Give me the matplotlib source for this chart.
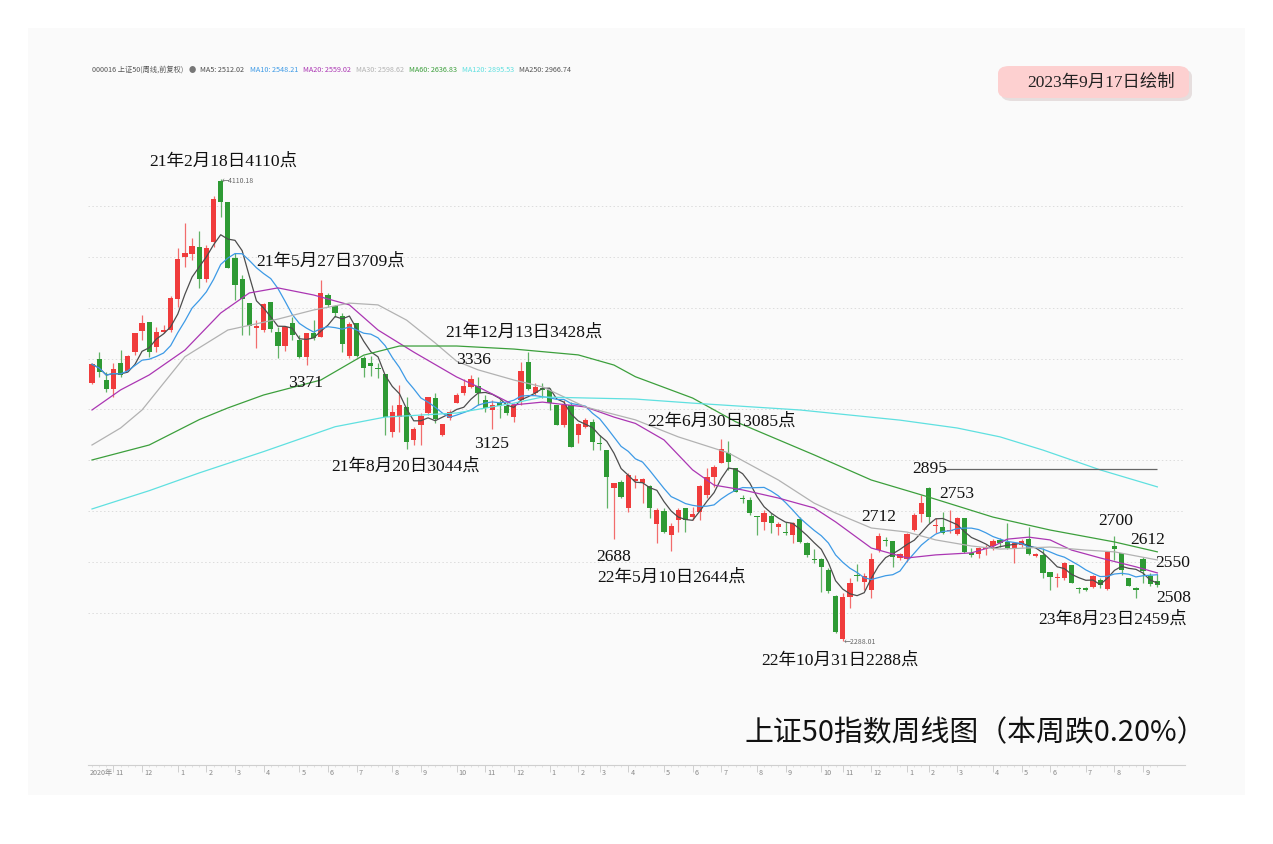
import numpy as np
import pandas as pd
import matplotlib
matplotlib.use('Agg')
import matplotlib.pyplot as plt
from matplotlib.patches import FancyBboxPatch, Rectangle

# weekly candles: Monday of each trading week (holiday-only weeks dropped)
first_week = '2020-10-12'
last_week = '2023-09-11'
closed_weeks = ['2022-01-31', '2022-10-03', '2023-01-23']
friday_holidays = ['2021-01-01', '2021-10-01']

opens = [3303, 3398, 3316, 3280, 3385, 3352, 3428, 3511, 3546, 3445,
         3505, 3513, 3634, 3799, 3812, 3841, 3714, 3861, 4100, 4019,
         3796, 3713, 3621, 3520, 3513, 3625, 3506, 3450, 3539, 3474,
         3408, 3503, 3487, 3651, 3608, 3568, 3411, 3539, 3401, 3384,
         3362, 3338, 3113, 3172, 3211, 3080, 3139, 3187, 3244, 3100,
         3165, 3227, 3264, 3290, 3292, 3237, 3198, 3224, 3214, 3172,
         3237, 3388, 3266, 3283, 3277, 3218, 3139, 3218, 3099, 3130,
         3152, 3067, 3040, 2889, 2916, 2811, 2918, 2909, 2899, 2749,
         2801, 2706, 2765, 2811, 2775, 2797, 2863, 2935, 2990, 3030,
         2971, 2850, 2843, 2781, 2758, 2780, 2738, 2718, 2705, 2767,
         2673, 2610, 2610, 2568, 2465, 2294, 2462, 2546, 2522, 2489,
         2646, 2685, 2682, 2616, 2610, 2725, 2788, 2892, 2741, 2738,
         2720, 2709, 2771, 2633, 2631, 2649, 2662, 2686, 2679, 2653,
         2666, 2688, 2624, 2627, 2561, 2536, 2537, 2587, 2498, 2495,
         2499, 2528, 2491, 2662, 2633, 2535, 2498, 2610, 2545, 2525]
highs = [3385, 3428, 3349, 3382, 3434, 3415, 3500, 3572, 3546, 3526,
         3533, 3647, 3835, 3933, 3874, 3903, 3848, 4042, 4110, 4019,
         3815, 3730, 3621, 3553, 3618, 3625, 3526, 3526, 3566, 3493,
         3503, 3552, 3709, 3657, 3612, 3579, 3546, 3539, 3411, 3411,
         3382, 3338, 3218, 3296, 3250, 3132, 3185, 3248, 3266, 3143,
         3198, 3264, 3319, 3336, 3326, 3257, 3237, 3237, 3231, 3224,
         3388, 3428, 3303, 3306, 3283, 3218, 3237, 3231, 3148, 3165,
         3161, 3099, 3040, 2909, 2922, 2948, 2942, 2929, 2902, 2811,
         2811, 2751, 2811, 2811, 2817, 2902, 2968, 2981, 3085, 3077,
         2971, 2863, 2854, 2781, 2804, 2791, 2758, 2758, 2758, 2778,
         2679, 2649, 2614, 2574, 2470, 2478, 2535, 2591, 2555, 2636,
         2712, 2696, 2682, 2633, 2715, 2791, 2863, 2895, 2771, 2797,
         2804, 2775, 2771, 2653, 2657, 2666, 2688, 2692, 2751, 2679,
         2688, 2736, 2633, 2653, 2561, 2554, 2599, 2587, 2502, 2502,
         2548, 2535, 2644, 2700, 2636, 2535, 2502, 2618, 2557, 2550]
lows = [3300, 3329, 3270, 3251, 3329, 3350, 3415, 3474, 3408, 3428,
        3500, 3507, 3605, 3763, 3789, 3677, 3704, 3839, 3960, 3759,
        3631, 3494, 3494, 3441, 3507, 3506, 3401, 3432, 3474, 3401,
        3375, 3474, 3484, 3605, 3566, 3428, 3401, 3408, 3329, 3332,
        3323, 3100, 3093, 3113, 3044, 3060, 3060, 3178, 3148, 3096,
        3158, 3224, 3257, 3283, 3218, 3191, 3125, 3165, 3178, 3152,
        3218, 3277, 3257, 3244, 3198, 3139, 3132, 3053, 3067, 3126,
        3040, 3040, 2810, 2688, 2850, 2797, 2889, 2830, 2771, 2673,
        2712, 2644, 2719, 2719, 2765, 2765, 2850, 2896, 2988, 2962,
        2876, 2830, 2784, 2705, 2725, 2712, 2705, 2705, 2673, 2673,
        2620, 2594, 2482, 2476, 2320, 2288, 2417, 2526, 2489, 2456,
        2640, 2662, 2581, 2607, 2600, 2722, 2758, 2753, 2712, 2710,
        2712, 2705, 2633, 2620, 2614, 2627, 2646, 2660, 2649, 2597,
        2660, 2627, 2620, 2535, 2489, 2499, 2528, 2515, 2478, 2486,
        2495, 2495, 2489, 2607, 2548, 2505, 2459, 2515, 2505, 2500]
closes = [3378, 3349, 3280, 3358, 3336, 3412, 3500, 3540, 3428, 3507,
          3513, 3641, 3792, 3818, 3845, 3714, 3838, 4029, 4016, 3759,
          3690, 3634, 3529, 3529, 3616, 3516, 3450, 3526, 3493, 3408,
          3503, 3480, 3657, 3612, 3579, 3457, 3535, 3411, 3362, 3371,
          3358, 3172, 3191, 3218, 3073, 3122, 3174, 3248, 3161, 3143,
          3191, 3257, 3292, 3319, 3264, 3204, 3218, 3214, 3187, 3218,
          3353, 3279, 3287, 3277, 3224, 3139, 3218, 3053, 3141, 3159,
          3073, 3063, 2935, 2909, 2856, 2942, 2925, 2925, 2811, 2804,
          2719, 2741, 2804, 2765, 2787, 2899, 2935, 2975, 3043, 2994,
          2876, 2846, 2793, 2775, 2793, 2751, 2749, 2712, 2751, 2679,
          2627, 2607, 2581, 2486, 2325, 2462, 2515, 2544, 2544, 2610,
          2702, 2682, 2620, 2629, 2709, 2784, 2833, 2775, 2745, 2715,
          2725, 2771, 2640, 2627, 2653, 2659, 2683, 2675, 2653, 2673,
          2683, 2631, 2631, 2557, 2541, 2540, 2596, 2518, 2492, 2489,
          2544, 2508, 2640, 2649, 2568, 2505, 2489, 2565, 2513, 2508]

# longer moving averages (week index, value)
ma20_idx = [0, 4, 8, 13, 18, 22, 26, 31, 36, 40, 45, 51, 54, 59, 63, 69, 73, 76,
            80, 84, 87, 91, 96, 101, 104, 109, 114, 118, 123, 126, 128, 131, 134,
            137, 141, 146, 149]
ma20_val = [3198, 3277, 3336, 3434, 3580, 3659, 3679, 3651, 3612, 3513, 3426, 3328,
            3289, 3218, 3229, 3210, 3170, 3145, 3080, 2962, 2902, 2883, 2851, 2812,
            2757, 2654, 2615, 2627, 2635, 2660, 2689, 2697, 2686, 2646, 2615, 2580, 2556]
ma30_idx = [0, 4, 7, 13, 19, 26, 31, 36, 40, 44, 48, 51, 54, 59, 63, 69, 76, 82, 89,
            96, 101, 104, 109, 114, 118, 123, 127, 134, 139, 143, 149]
ma30_val = [3060, 3127, 3198, 3408, 3513, 3556, 3592, 3619, 3612, 3552, 3462, 3390,
            3356, 3316, 3289, 3210, 3159, 3092, 3029, 2922, 2831, 2792, 2733, 2717,
            2686, 2662, 2650, 2658, 2646, 2639, 2607]
ma60_idx = [0, 8, 15, 19, 24, 32, 38, 43, 51, 59, 68, 73, 76, 84, 90, 101, 109, 117,
            126, 134, 143, 149]
ma60_val = [3001, 3060, 3160, 3206, 3257, 3316, 3414, 3450, 3450, 3438, 3415, 3375,
            3329, 3245, 3152, 3021, 2922, 2855, 2776, 2725, 2678, 2639]
ma120_idx = [0, 8, 15, 24, 34, 41, 51, 59, 63, 76, 84, 99, 113, 121, 127, 133, 141, 149]
ma120_val = [2808, 2880, 2950, 3034, 3132, 3170, 3186, 3225, 3249, 3241, 3225, 3198,
             3158, 3127, 3092, 3040, 2962, 2895]
ma250_level = 2966.74
ma250_from = 119

legend_labels = ['000016 上证50(周线,前复权)', '●', 'MA5: 2512.02', 'MA10: 2548.21',
                 'MA20: 2559.02', 'MA30: 2598.62', 'MA60: 2636.83', 'MA120: 2895.53',
                 'MA250: 2966.74']

notes = ['21年2月18日4110点', '21年5月27日3709点', '3371', '21年8月20日3044点', '3336',
         '3125', '21年12月13日3428点', '2688', '22年5月10日2644点', '22年6月30日3085点',
         '22年10月31日2288点', '2712', '2895', '2753', '2700', '2612', '2550', '2508',
         '23年8月23日2459点']
note_x = [18.3, 33.4, 29.9, 43.9, 53.4, 55.9, 60.4, 73.0, 81.0, 88.1, 104.6, 110.1,
          117.1, 121.0, 143.2, 147.6, 151.2, 151.3, 142.7]
note_y = [4175, 3781, 3306, 2977, 3395, 3064, 3505, 2619, 2536, 3151, 2209, 2776,
          2965, 2867, 2761, 2686, 2595, 2457, 2374]

title = '上证50指数周线图（本周跌0.20%）'
stamp = '2023年9月17日绘制'

# colours
UP = '#f03c3c'
DOWN = '#2e9a34'
C_MA5 = '#4d4d4d'
C_MA10 = '#3d9ae6'
C_MA20 = '#ab36b3'
C_MA30 = '#b2b2b2'
C_MA60 = '#3c9f3c'
C_MA120 = '#5fe0e0'
legend_colors = ['#555555', '#777777', C_MA5, C_MA10, C_MA20, C_MA30, C_MA60, C_MA120, '#555555']

SERIF = ['Liberation Serif', 'Noto Sans CJK SC']
SANS = ['Noto Sans CJK SC', 'DejaVu Sans']

W, H = 1273, 844
fig = plt.figure(figsize=(W / 100, H / 100), dpi=100)
fig.patch.set_facecolor('white')
fig.patches.append(Rectangle((28 / W, 1 - 795 / H), (1245 - 28) / W, (795 - 28) / H,
                             transform=fig.transFigure, fc='#fafafa', ec='none', zorder=-5))

ax = fig.add_axes([88 / W, 1 - 765 / H, (1185 - 88) / W, (765 - 150) / H])
ax.set_facecolor('none')
ax.set_zorder(3)

o = np.array(opens, float)
h = np.array(highs, float)
l = np.array(lows, float)
c = np.array(closes, float)
n = len(c)
x = np.arange(n)

weeks = pd.date_range(first_week, last_week, freq='W-MON')
weeks = weeks[~weeks.isin(pd.to_datetime(closed_weeks))]
week_end = weeks + pd.Timedelta(days=4)
hol = week_end.isin(pd.to_datetime(friday_holidays))
week_end = week_end.where(~hol, week_end - pd.Timedelta(days=1))
months = np.array(week_end.month)
tick_idx = [i for i in range(1, n) if months[i] != months[i - 1]]

up = c >= o
col = np.where(up, UP, DOWN)
body_low = np.minimum(o, c)
body_h = np.maximum(np.abs(c - o), 2.5)
ax.vlines(x, l, h, colors=col, lw=0.9, alpha=0.75, zorder=2)
ax.bar(x, body_h, bottom=body_low, width=0.74, color=col, edgecolor='none', zorder=3)

cs = pd.Series(c)
ax.plot(x, cs.rolling(5, min_periods=1).mean(), color=C_MA5, lw=0.9, zorder=4)
ax.plot(x, cs.rolling(10, min_periods=1).mean(), color=C_MA10, lw=0.9, zorder=4)
ax.plot(ma20_idx, ma20_val, color=C_MA20, lw=0.9, zorder=4)
ax.plot(ma30_idx, ma30_val, color=C_MA30, lw=0.9, zorder=4)
ax.plot(ma60_idx, ma60_val, color=C_MA60, lw=0.9, zorder=4)
ax.plot(ma120_idx, ma120_val, color=C_MA120, lw=0.9, zorder=4)
ax.hlines(ma250_level, ma250_from, n - 1, color='#666666', lw=0.9, zorder=4)

# price grid
for g in range(2400, 4001, 200):
    ax.axhline(g, color='#dcdcdc', lw=0.7, ls=(0, (1.5, 2.5)), zorder=1)

ax.set_xlim((88 - 92) / 7.15, (1185 - 92) / 7.15)
ax.set_ylim(4110 - (765 - 178.5) * 3.94, 4110 + (178.5 - 150) * 3.94)
for s in ['top', 'left', 'right']:
    ax.spines[s].set_visible(False)
ax.spines['bottom'].set_color('#cfcfcf')
ax.spines['bottom'].set_linewidth(0.8)
ax.set_yticks([])
ax.set_xticks(tick_idx)
ax.set_xticklabels([])
ax.set_xticks(x, minor=True)
ax.tick_params(axis='x', which='major', length=5, color='#c8c8c8', width=0.6)
ax.tick_params(axis='x', which='minor', length=1.5, color='#d8d8d8', width=0.5)

ax.annotate('2020年', xy=(x[0], 0), xycoords=('data', 'axes fraction'), xytext=(-2, -3),
            textcoords='offset points', ha='left', va='top', fontsize=5.2,
            color='#888888', family=SANS)
for i in tick_idx:
    ax.annotate(str(months[i]), xy=(i, 0), xycoords=('data', 'axes fraction'),
                xytext=(1.5, -3), textcoords='offset points', ha='left', va='top',
                fontsize=5.2, color='#888888', family=SANS)

# labels on the chart
for t, tx, ty in zip(notes, note_x, note_y):
    ax.text(tx, ty, t, ha='center', va='center', fontsize=12.6, color='#111111',
            family=SERIF, zorder=6)

i_hi = int(np.argmax(h))
i_lo = int(np.argmin(l))
ax.annotate('←%.2f' % 4110.18, xy=(i_hi, h[i_hi]), xytext=(1, -2), textcoords='offset points',
            ha='left', va='center', fontsize=5, color='#666666', family=SANS)
ax.annotate('←%.2f' % 2288.01, xy=(i_lo, l[i_lo]), xytext=(1, -1), textcoords='offset points',
            ha='left', va='center', fontsize=5, color='#666666', family=SANS)

fig.text(1206 / W, 1 - 733 / H, title, ha='right', va='center', fontsize=20.8,
         color='#111111', family=SANS)

# date stamp box
bx0, by0, bx1, by1 = 998, 66, 1189, 98
fig.patches.append(FancyBboxPatch((bx0 / W + 3 / W, 1 - by1 / H - 3 / H),
                                  (bx1 - bx0) / W, (by1 - by0) / H,
                                  boxstyle='round,pad=0,rounding_size=0.009',
                                  transform=fig.transFigure, fc='#d9cccc', ec='none',
                                  alpha=0.6, zorder=1))
fig.patches.append(FancyBboxPatch((bx0 / W, 1 - by1 / H), (bx1 - bx0) / W, (by1 - by0) / H,
                                  boxstyle='round,pad=0,rounding_size=0.009',
                                  transform=fig.transFigure, fc='#fdd0d0', ec='none',
                                  zorder=2))
fig.text(1101 / W, 1 - 83 / H, stamp, ha='center', va='center', fontsize=12.5,
         color='#222222', family=SERIF, zorder=3)

# MA legend row
renderer = fig.canvas.get_renderer()
lx = 92
for t, cc in zip(legend_labels, legend_colors):
    txt = fig.text(lx / W, 1 - 70 / H, t, ha='left', va='center', fontsize=5.2,
                   color=cc, family=SANS)
    bb = txt.get_window_extent(renderer)
    lx = bb.x1 + 5

fig.savefig('out.png', dpi=100, facecolor=fig.get_facecolor())
